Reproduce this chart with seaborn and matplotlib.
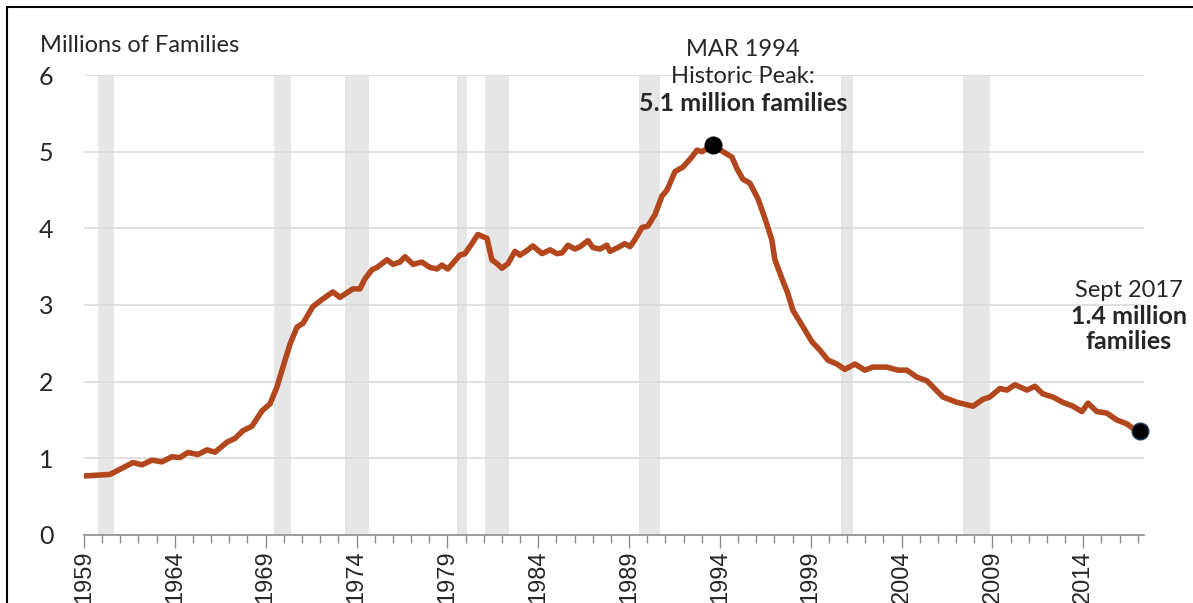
import numpy as np
import pandas as pd
import matplotlib.pyplot as plt
from matplotlib.lines import Line2D
import seaborn as sns

# ===== データ =====
# 年 (小数表記) と 受給家族数 (百万)
years = [1959.55, 1960.98, 1962.25, 1962.74, 1963.29, 1963.84, 1964.39, 1964.83,
         1965.27, 1965.82, 1966.32, 1966.76, 1967.42, 1967.86, 1968.30, 1968.80,
         1969.35, 1969.79, 1970.17, 1970.50, 1970.89, 1971.27, 1971.60, 1972.15,
         1972.70, 1973.25, 1973.64, 1974.35, 1974.74, 1975.01, 1975.40, 1975.68,
         1976.23, 1976.56, 1976.94, 1977.22, 1977.66, 1978.15, 1978.59, 1978.98,
         1979.25, 1979.58, 1980.24, 1980.52, 1980.90, 1981.23, 1981.73, 1982.00,
         1982.28, 1982.55, 1982.89, 1983.27, 1983.55, 1983.93, 1984.26, 1984.76,
         1985.20, 1985.58, 1985.86, 1986.19, 1986.57, 1986.85, 1987.29, 1987.56,
         1987.95, 1988.33, 1988.50, 1988.94, 1989.32, 1989.60, 1989.87, 1990.26,
         1990.59, 1990.98, 1991.36, 1991.64, 1992.08, 1992.52, 1993.01, 1993.29,
         1993.56, 1993.78, 1994.17, 1994.72, 1995.21, 1995.49, 1995.82, 1996.20,
         1996.64, 1997.03, 1997.41, 1997.58, 1997.96, 1998.29, 1998.57, 1998.96,
         1999.34, 1999.62, 2000.06, 2000.50, 2000.99, 2001.43, 2001.98, 2002.53,
         2002.97, 2003.74, 2004.35, 2004.84, 2005.39, 2005.95, 2006.83, 2007.60,
         2008.48, 2009.03, 2009.41, 2009.96, 2010.35, 2010.79, 2011.45, 2011.89,
         2012.33, 2012.88, 2013.43, 2013.98, 2014.48, 2014.81, 2015.30, 2015.85,
         2016.40, 2016.95, 2017.23, 2017.67]
families = [0.77, 0.79, 0.945, 0.915, 0.976, 0.954, 1.02, 1.01,
            1.076, 1.05, 1.11, 1.08, 1.21, 1.26, 1.36, 1.42,
            1.62, 1.71, 1.93, 2.19, 2.49, 2.71, 2.76, 2.98,
            3.08, 3.17, 3.10, 3.21, 3.21, 3.34, 3.46, 3.49,
            3.59, 3.53, 3.56, 3.63, 3.53, 3.56, 3.49, 3.47,
            3.52, 3.47, 3.65, 3.67, 3.80, 3.92, 3.87, 3.59,
            3.54, 3.48, 3.54, 3.70, 3.65, 3.71, 3.77, 3.67,
            3.72, 3.67, 3.68, 3.78, 3.73, 3.76, 3.84, 3.75,
            3.73, 3.78, 3.70, 3.75, 3.80, 3.76, 3.85, 4.01,
            4.03, 4.18, 4.42, 4.50, 4.74, 4.80, 4.93, 5.02,
            5.00, 5.03, 5.09, 5.00, 4.93, 4.78, 4.64, 4.59,
            4.39, 4.13, 3.85, 3.59, 3.35, 3.15, 2.93, 2.78,
            2.63, 2.52, 2.41, 2.28, 2.23, 2.16, 2.23, 2.15,
            2.19, 2.19, 2.15, 2.15, 2.06, 2.01, 1.80, 1.73,
            1.68, 1.77, 1.80, 1.91, 1.89, 1.96, 1.89, 1.94,
            1.84, 1.80, 1.73, 1.68, 1.61, 1.72, 1.61, 1.59,
            1.50, 1.45, 1.40, 1.36]

# 景気後退期 (開始, 終了)
recession_start = [1960.33, 1970.0, 1973.92, 1980.1, 1981.6, 1990.08, 2001.2, 2007.92]
recession_end = [1961.2, 1970.92, 1975.25, 1980.62, 1982.92, 1991.25, 2001.9, 2009.42]

# 注記する点
peak_year, peak_value = 1994.17, 5.09
last_year, last_value = 2017.67, 1.36

tick_years = list(range(1959, 2015, 5))

df = pd.DataFrame({'year': years, 'families': families})

sns.set_style('white')
plt.rcParams['font.family'] = ['Lato', 'DejaVu Sans']

fig = plt.figure(figsize=(11.93, 6.03), dpi=100)
ax = fig.add_axes([0.0704, 0.1128, 0.8886, 0.7628])

# 景気後退期の帯
for s, e in zip(recession_start, recession_end):
    ax.axvspan(s, e, ymin=0, ymax=1, color='#e6e6e6', lw=0, zorder=0)

# 横グリッド
for v in range(1, 7):
    ax.axhline(v, color='#d9d9d9', lw=1.2, zorder=0.5)

sns.lineplot(data=df, x='year', y='families', ax=ax, color='#b2461c', lw=4, zorder=3)

ax.plot([peak_year], [peak_value], 'o', color='black', ms=12, zorder=4)
ax.plot([last_year], [last_value], 'o', color='black', ms=12, mec='#1f3f5f', mew=1, zorder=4, clip_on=False)

ax.set_xlim(1959.55, 2017.9)
ax.set_ylim(0, 6)
ax.set_xlabel('')
ax.set_ylabel('')

# 目盛り
ax.set_xticks([y + 0.55 for y in tick_years])
ax.set_xticklabels([str(y) for y in tick_years], rotation=90, fontsize=17,
                   family=['Liberation Sans', 'DejaVu Sans'])
ax.set_xticks([1959.55 + i for i in range(59)], minor=True)
ax.tick_params(axis='x', which='major', length=9, width=1, color='#8c8c8c', pad=2, direction='out', bottom=True)
ax.tick_params(axis='x', which='minor', length=6, width=1, color='#8c8c8c', direction='out', bottom=True)
ax.set_yticks(range(0, 7))
ax.tick_params(axis='y', length=0, pad=22, labelsize=18)

for side in ['top', 'right', 'left']:
    ax.spines[side].set_visible(False)
ax.spines['bottom'].set_color('#8c8c8c')
ax.spines['bottom'].set_linewidth(1.2)

# テキスト
fig.text(0.0335, 0.925, 'Millions of Families', fontsize=17, va='center', ha='left')

ax.text(1995.82, 6.33, 'MAR 1994', ha='center', va='center', fontsize=17)
ax.text(1995.82, 5.98, 'Historic Peak:', ha='center', va='center', fontsize=17)
ax.text(1995.82, 5.63, '5.1 million families', ha='center', va='center', fontsize=18, fontweight='bold')

ax.text(2017.05, 3.19, 'Sept 2017', ha='center', va='center', fontsize=17)
ax.text(2017.05, 2.85, '1.4 million', ha='center', va='center', fontsize=18, fontweight='bold', clip_on=False)
ax.text(2017.05, 2.52, 'families', ha='center', va='center', fontsize=18, fontweight='bold', clip_on=False)

# 外枠 (上と左)
fig.add_artist(Line2D([7 / 1193, 7 / 1193], [0, 1 - 7 / 603], color='black', lw=1.5))
fig.add_artist(Line2D([7 / 1193, 1], [1 - 7 / 603, 1 - 7 / 603], color='black', lw=1.5))

fig.savefig('out.png', dpi=100)
